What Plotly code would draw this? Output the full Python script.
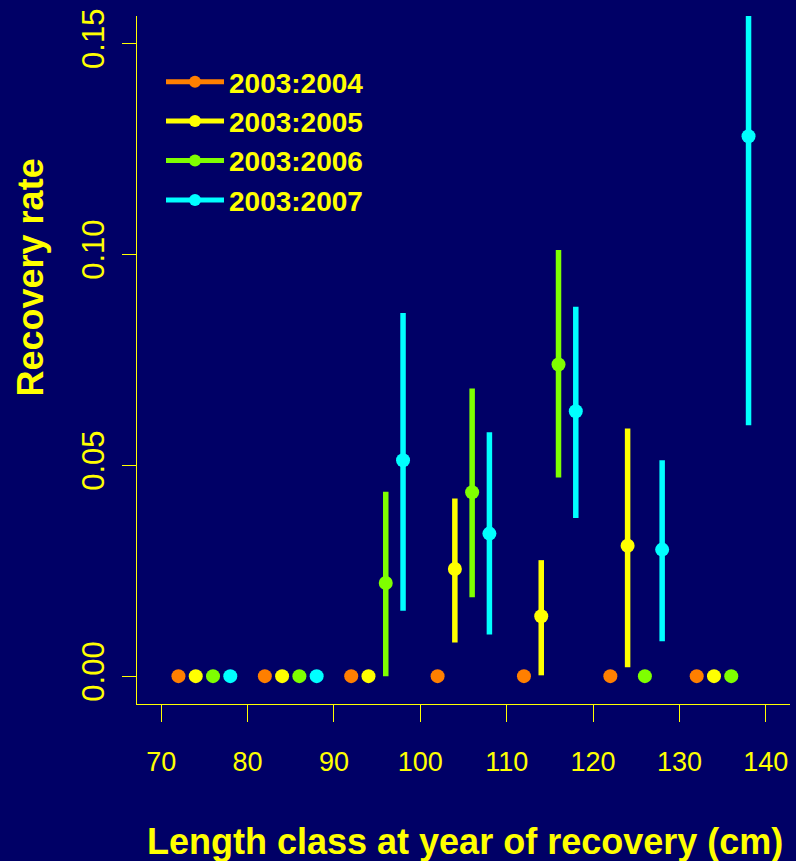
import plotly.graph_objects as go

# ---- data ----
series_names = ["2003:2004", "2003:2005", "2003:2006", "2003:2007"]
series_colors = ["#FF7F00", "#FFFF00", "#7FFF00", "#00FFFF"]

x_2004 = [72, 82, 92, 102, 112, 122, 132]
est_2004 = [0, 0, 0, 0, 0, 0, 0]
lo_2004 = [0, 0, 0, 0, 0, 0, 0]
hi_2004 = [0, 0, 0, 0, 0, 0, 0]

x_2005 = [74, 84, 94, 104, 114, 124, 134]
est_2005 = [0, 0, 0, 0.0254, 0.0142, 0.0309, 0]
lo_2005 = [0, 0, 0, 0.0080, 0.0002, 0.0021, 0]
hi_2005 = [0, 0, 0, 0.0421, 0.0275, 0.0587, 0]

x_2006 = [76, 86, 96, 106, 116, 126, 136]
est_2006 = [0, 0, 0.0221, 0.0436, 0.0739, 0, 0]
lo_2006 = [0, 0, 0.0, 0.0187, 0.0471, 0, 0]
hi_2006 = [0, 0, 0.0437, 0.0682, 0.1010, 0, 0]

x_2007 = [78, 88, 98, 108, 118, 128, 138]
est_2007 = [0, 0, 0.0512, 0.0338, 0.0628, 0.0300, 0.1280]
lo_2007 = [0, 0, 0.0155, 0.0099, 0.0375, 0.0083, 0.0595]
hi_2007 = [0, 0, 0.0861, 0.0578, 0.0876, 0.0512, 0.1965]

x_ticks = [70, 80, 90, 100, 110, 120, 130, 140]
y_ticks = [0.0, 0.05, 0.10, 0.15]
y_tick_labels = ["0.00", "0.05", "0.10", "0.15"]

x_title = "Length class at year of recovery (cm)"
y_title = "Recovery rate"

BG = "#000066"
FG = "#FFFF00"
SANS = "Liberation Sans, Arial, sans-serif"

fig = go.Figure()

all_series = [
    (x_2004, est_2004, lo_2004, hi_2004),
    (x_2005, est_2005, lo_2005, hi_2005),
    (x_2006, est_2006, lo_2006, hi_2006),
    (x_2007, est_2007, lo_2007, hi_2007),
]

for name, color, (xs, est, lo, hi) in zip(series_names, series_colors, all_series):
    px, py, ps = [], [], []
    for xv, e, l, h in zip(xs, est, lo, hi):
        px += [xv, xv, xv, None]
        py += [l, e, h, None]
        ps += [0, 14, 0, 0]
    fig.add_trace(go.Scatter(
        x=px, y=py, name=name, mode="lines+markers",
        line=dict(color=color, width=5.5),
        marker=dict(color=color, size=ps, opacity=1, line=dict(width=0)),
        connectgaps=False,
    ))

fig.update_layout(
    width=796, height=861,
    paper_bgcolor=BG, plot_bgcolor=BG,
    margin=dict(l=137, r=6, t=16, b=157),
    showlegend=True,
    legend=dict(
        x=(161 - 137) / 653, y=(704 - 57) / 688, xanchor="left", yanchor="top",
        bgcolor="rgba(0,0,0,0)",
        font=dict(family=SANS, size=28, color=FG, weight="bold"),
        itemsizing="constant", itemwidth=58, tracegroupgap=0,
    ),
    xaxis=dict(
        range=[67.2, 142.8], tickvals=x_ticks,
        showline=True, linecolor=FG, linewidth=1, mirror=False,
        ticks="outside", ticklen=17, tickwidth=1, tickcolor=FG,
        showgrid=False, zeroline=False,
        tickfont=dict(family=SANS, size=27, color=FG),
        ticklabelstandoff=17,
    ),
    yaxis=dict(
        range=[-0.0066, 0.1565], tickvals=y_ticks, ticktext=y_tick_labels,
        tickangle=-90,
        showline=True, linecolor=FG, linewidth=1,
        ticks="outside", ticklen=14, tickwidth=1, tickcolor=FG,
        showgrid=False, zeroline=False,
        tickfont=dict(family=SANS, size=31, color=FG),
        ticklabelstandoff=6,
    ),
    annotations=[
        dict(text=x_title, xref="paper", yref="paper",
             x=(464.5 - 137) / 653, y=(704 - 819) / 688,
             xanchor="center", yanchor="top", showarrow=False,
             font=dict(family=SANS, size=36, color=FG, weight="bold")),
        dict(text=y_title, xref="paper", yref="paper",
             x=(30 - 137) / 653, y=(704 - 277.5) / 688,
             xanchor="center", yanchor="middle", textangle=-90, showarrow=False,
             font=dict(family=SANS, size=36, color=FG, weight="bold")),
    ],
)

fig.write_html(
    "out.html",
    config={"displayModeBar": False},
    post_script="document.body.style.margin='0';document.body.style.background='#000066';",
)
